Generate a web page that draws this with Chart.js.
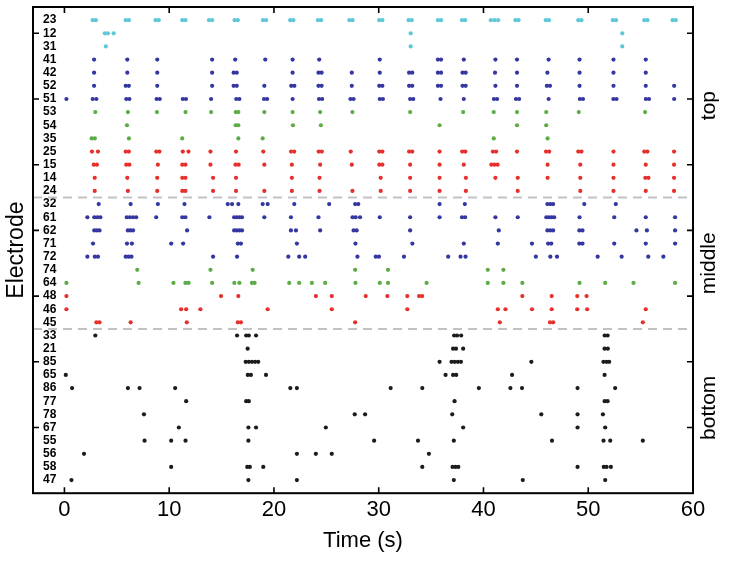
<!DOCTYPE html>
<html>
<head>
<meta charset="utf-8">
<script src="https://cdn.jsdelivr.net/npm/chart.js@4.4.1/dist/chart.umd.min.js"></script>
<style>
  html, body { margin: 0; padding: 0; background: #fff; }
  #wrap { width: 731px; height: 563px; }
</style>
</head>
<body>
<div id="wrap"><canvas id="raster"></canvas></div>
<script>
// electrodes, top to bottom
const electrodes = ['23','12','31','41','42','52','51','53','54','35','25','15','14','24',
	'32','61','62','71','72','74','64','48','46','45',
	'33','21','85','65','86','77','78','67','55','56','58','47'];

const regionNames = ['top', 'middle', 'bottom'];
const xTicks = [0, 10, 20, 30, 40, 50, 60];
const yTickRows = [2, 7, 12, 17, 22, 27, 32];

// spike times (s), one list per electrode
const topSpikes = [
	[2.7,3.0,5.85,6.15,8.7,9.0,11.25,11.55,13.8,14.1,16.25,16.55,18.95,19.25,21.55,21.85,24.2,24.5,27.2,27.5,30.05,30.35,32.85,33.15,35.65,35.95,37.95,38.25,40.7,41.05,41.4,43.05,43.35,45.95,46.25,49.05,49.35,52.35,52.65,55.35,55.65,58.05,58.35],
	[3.85,4.15,4.7,33.05,53.25],
	[3.95,33.05,53.25],
	[2.83,6.0,8.86,14.1,16.3,19.17,21.78,24.32,30.1,35.65,35.95,38.12,41.14,43.2,46.22,49.17,52.41,55.49],
	[2.83,6.0,8.86,14.1,16.15,16.45,21.78,24.25,24.55,27.43,30.1,32.9,33.2,35.65,35.95,38.0,38.3,41.1,43.2,46.1,49.17,52.41,55.49],
	[2.83,5.85,6.15,8.86,14.1,16.15,16.45,19.08,21.65,21.95,24.25,24.55,27.43,30.05,30.35,32.9,33.2,35.65,35.95,38.0,38.3,41.14,43.2,46.05,46.35,49.17,52.41,55.49,58.2],
	[0.19,2.7,3.05,5.9,6.2,8.8,9.1,11.3,11.6,14.0,16.4,16.7,19.05,19.35,21.78,24.3,24.6,27.3,27.6,30.1,30.4,33.0,33.3,35.9,38.12,41.0,41.3,43.1,43.4,46.22,49.2,49.5,52.4,52.7,55.5,55.8,58.2],
	[2.95,6.06,8.83,11.56,14.0,16.35,16.6,19.08,21.78,24.41,27.49,33.0,38.06,40.98,43.2,45.99,49.1,55.43],
	[5.97,16.35,16.6,21.81,24.48,35.81,43.2,45.99],
	[2.6,2.9,6.16,11.24,16.6,18.92,40.98,46.12],
	[2.63,3.2,5.85,6.15,8.77,9.07,11.3,11.84,13.94,16.38,18.98,21.63,21.93,24.27,24.57,27.33,30.05,30.35,32.9,33.2,35.81,37.97,38.27,40.9,41.2,43.2,45.97,46.27,49.05,49.35,52.41,55.35,55.65,58.19],
	[2.8,3.1,5.9,6.2,8.92,11.25,11.55,13.94,16.33,16.63,19.08,21.71,24.41,27.43,30.05,30.35,33.0,35.81,38.12,40.75,41.05,41.35,46.12,49.24,52.41,55.49,58.19],
	[2.89,6.0,8.86,11.25,11.55,14.19,16.38,21.71,24.35,30.19,33.0,35.81,38.32,41.14,43.27,46.12,49.24,52.41,55.45,55.75,58.19],
	[2.89,6.06,8.86,11.25,11.55,14.19,16.38,19.08,21.71,24.35,27.49,30.19,33.0,35.81,38.32,43.27,49.24,52.41,55.49,58.19]
];

const middleSpikes = [
	[3.27,6.32,8.92,11.46,15.59,16.0,16.6,18.92,19.4,21.94,25.27,27.75,28.05,35.81,38.22,46.1,46.38,46.65,49.62,52.63],
	[2.19,2.85,3.14,3.43,5.95,6.25,6.55,6.85,8.76,11.25,11.55,13.84,16.2,16.45,16.7,16.95,19.08,21.62,24.25,27.5,27.8,28.22,30.1,33.0,35.81,37.95,38.25,41.14,43.27,46.0,46.25,46.5,46.75,49.17,52.48,55.49,58.29],
	[2.85,3.1,3.35,6.05,6.3,6.55,11.71,16.2,16.45,16.7,16.95,21.62,22.1,24.41,27.6,27.9,33.0,41.46,46.1,46.38,46.65,49.15,49.45,54.6,55.6,58.29],
	[2.73,5.97,6.44,10.19,11.33,16.55,16.85,22.19,27.78,33.21,38.12,41.37,44.63,46.17,46.47,49.15,49.45,52.48,55.49,58.29],
	[2.19,2.9,3.2,5.85,6.12,6.4,14.19,16.48,21.37,22.41,22.98,27.97,29.72,30.02,32.41,36.63,37.81,38.29,45.0,46.38,47.02,50.9,53.19,55.73,57.17],
	[6.95,13.94,17.97,27.75,30.89,40.41,41.9],
	[0.19,7.08,10.41,11.55,11.85,14.1,16.22,16.7,17.9,18.15,21.46,22.41,23.62,24.89,27.78,30.1,30.89,34.57,40.41,41.9,43.71,49.17,51.62,54.32,58.29],
	[0.19,14.95,16.6,24.0,25.52,28.76,30.83,32.73,33.85,34.15,43.71,46.51,48.95,49.84],
	[0.19,11.14,11.62,12.98,19.4,25.52,32.73,41.37,42.1,44.63,46.51,48.95,49.9,55.49],
	[3.05,3.35,6.32,11.68,16.55,16.85,27.75,41.56,46.35,46.65,55.21]
];

const bottomSpikes = [
	[2.95,16.48,17.35,17.6,18.29,37.2,37.48,37.87,51.57,51.85],
	[17.49,37.1,37.38,38.06,51.56,51.87],
	[17.3,17.6,17.9,18.2,18.5,35.81,36.95,37.25,37.55,37.85,44.57,51.45,51.75,52.0],
	[0.13,17.5,17.8,19.24,36.38,37.1,37.4,42.73,51.56],
	[0.73,6.06,7.17,10.57,21.56,22.19,31.14,34.16,39.56,42.57,43.68,48.98,52.57],
	[11.62,17.35,17.6,37.24,51.57,51.85],
	[7.59,27.71,28.7,37.02,45.52,48.98,51.4],
	[10.92,17.56,18.29,24.95,38.06,48.98,51.62],
	[7.65,10.19,11.56,17.56,29.56,33.75,37.17,46.54,51.46,52.1,55.21],
	[1.87,22.19,24.0,25.52,34.79],
	[10.19,17.45,17.7,18.98,34.16,37.05,37.33,37.6,48.98,51.48,51.75,52.16],
	[0.67,17.56,22.19,37.17,43.75,51.62]
];

const X_MIN = -3, X_MAX = 60;
const FONT = "'Liberation Sans', Arial, Helvetica, sans-serif";

const palette = {
	cyan: '#5ec8d8',
	blue: '#34379f',
	green: '#5cac48',
	red: '#e6302c',
	black: '#1c1c1c'
};
// colour runs down the rows
const colorRuns = [['cyan', 3], ['blue', 4], ['green', 3], ['red', 4], ['blue', 5], ['green', 2], ['red', 3], ['black', 12]];
const rowColors = [];
colorRuns.forEach(([c, n]) => { for (let i = 0; i < n; i++) rowColors.push(palette[c]); });

const spikeRows = [...topSpikes, ...middleSpikes, ...bottomSpikes];
const groups = [topSpikes, middleSpikes, bottomSpikes];

// row spans of each region, used for separators and side labels
const regionSpans = [];
let firstRow = 1;
groups.forEach((g) => {
	regionSpans.push([firstRow, firstRow + g.length - 1]);
	firstRow += g.length;
});
const separators = regionSpans.slice(0, -1).map((s) => s[1] + 0.5);

const datasets = [];
separators.forEach((b) => {
	datasets.push({
		type: 'line',
		data: [{ x: X_MIN, y: b }, { x: X_MAX, y: b }],
		borderColor: '#c2c2c2',
		borderWidth: 2,
		borderDash: [9, 6],
		pointRadius: 0,
		order: 2
	});
});
spikeRows.forEach((times, i) => {
	datasets.push({
		type: 'scatter',
		data: times.map((t) => ({ x: t, y: i + 1 })),
		backgroundColor: rowColors[i],
		borderWidth: 0,
		pointRadius: 2.1,
		order: 1
	});
});

// matlab style box, inward ticks and region names
const matlabFrame = {
	id: 'matlabFrame',
	afterDraw(chart) {
		const { ctx, chartArea: a, scales: { x, y } } = chart;
		ctx.save();
		ctx.strokeStyle = '#000';
		ctx.lineWidth = 2;
		ctx.strokeRect(a.left, a.top, a.right - a.left, a.bottom - a.top);
		ctx.lineWidth = 1.6;
		ctx.beginPath();
		xTicks.forEach((v) => {
			const px = x.getPixelForValue(v);
			ctx.moveTo(px, a.bottom); ctx.lineTo(px, a.bottom - 6);
			ctx.moveTo(px, a.top); ctx.lineTo(px, a.top + 6);
		});
		yTickRows.forEach((r) => {
			const py = y.getPixelForValue(r);
			ctx.moveTo(a.left, py); ctx.lineTo(a.left + 6, py);
			ctx.moveTo(a.right, py); ctx.lineTo(a.right - 6, py);
		});
		ctx.stroke();

		ctx.fillStyle = '#000';
		ctx.font = '21px ' + FONT;
		ctx.textAlign = 'center';
		ctx.textBaseline = 'middle';
		regionSpans.forEach((s, i) => {
			const py = y.getPixelForValue((s[0] + s[1]) / 2);
			ctx.save();
			ctx.translate(a.right + 16, py);
			ctx.rotate(-Math.PI / 2);
			ctx.fillText(regionNames[i], 0, 0);
			ctx.restore();
		});
		ctx.restore();
	}
};

document.addEventListener("DOMContentLoaded", function () {
	new Chart(document.getElementById("raster"), {
		data: { datasets: datasets },
		options: {
			responsive: true,
			maintainAspectRatio: false,
			animation: false,
			layout: { padding: { top: 7, right: 38, left: 3, bottom: 1 } },
			plugins: {
				legend: { display: false },
				tooltip: { enabled: false }
			},
			scales: {
				x: {
					type: 'linear',
					min: X_MIN,
					max: X_MAX,
					afterBuildTicks: (s) => { s.ticks = xTicks.map((v) => ({ value: v })); },
					grid: { display: false, drawTicks: false },
					border: { display: false },
					ticks: {
						color: '#000',
						padding: 4,
						maxRotation: 0,
						font: { family: FONT, size: 22 }
					},
					title: {
						display: true,
						text: 'Time (s)',
						color: '#000',
						padding: { top: 0, bottom: 8 },
						font: { family: FONT, size: 22 }
					}
				},
				y: {
					type: 'linear',
					min: 0,
					max: electrodes.length + 1,
					reverse: true,
					afterBuildTicks: (s) => { s.ticks = electrodes.map((e, i) => ({ value: i + 1 })); },
					afterFit: (s) => {
						s.width = 30;
						s.paddingTop = 0;
						s.paddingBottom = 0;
					},
					grid: { display: false, drawTicks: false },
					border: { display: false },
					ticks: {
						autoSkip: false,
						mirror: true,
						padding: 10,
						color: '#000',
						font: { family: FONT, size: 12, weight: 'bold', lineHeight: 1 },
						callback: (v) => electrodes[v - 1]
					},
					title: {
						display: true,
						text: 'Electrode',
						color: '#000',
						padding: { top: 0, bottom: 2 },
						font: { family: FONT, size: 23 }
					}
				}
			}
		},
		plugins: [matlabFrame]
	});
});
</script>
</body>
</html>
